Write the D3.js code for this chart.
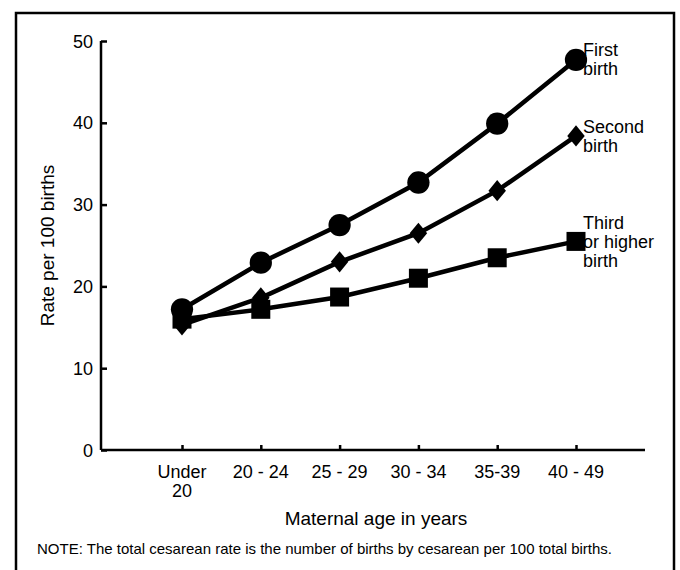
<!DOCTYPE html>
<html>
<head>
<meta charset="utf-8">
<title>Cesarean rate by maternal age</title>
<script src="https://d3js.org/d3.v7.min.js"></script>
<style>
  body { margin: 0; background: #fff; }
  text { font-family: "Liberation Sans", Arial, sans-serif; fill: #000; }
</style>
</head>
<body>
<div id="chart"></div>
<script>
// data
const ageGroups = ["Under 20", "20 - 24", "25 - 29", "30 - 34", "35-39", "40 - 49"];
const firstBirth = [17.2, 22.9, 27.5, 32.7, 39.9, 47.7];
const secondBirth = [15.3, 18.6, 23.0, 26.5, 31.7, 38.4];
const thirdBirth = [16.0, 17.2, 18.7, 21.0, 23.5, 25.5];
const yTicks = [0, 10, 20, 30, 40, 50];

const W = 680, H = 570;
const margin = { top: 41, left: 101, right: 35, bottom: 120 };

const svg = d3.select("#chart").append("svg")
  .attr("width", W).attr("height", H);

// outer frame (bottom edge runs off the page)
svg.append("path")
  .attr("d", "M16,600 L16,13 L674,13 L674,600")
  .attr("fill", "none").attr("stroke", "#000").attr("stroke-width", 2.5);

const x = d3.scalePoint()
  .domain(ageGroups)
  .range([182, 576]);

const y = d3.scaleLinear()
  .domain([0, 50])
  .range([H - margin.bottom, margin.top]);

// y axis
const yAxis = svg.append("g")
  .attr("transform", `translate(${margin.left},0)`)
  .call(d3.axisRight(y).tickValues(yTicks).tickSize(6).tickFormat(""));
yAxis.select(".domain").attr("d", `M0,${y(50)}V${y(0)}`).attr("stroke-width", 2.5);
yAxis.selectAll(".tick line").attr("stroke-width", 2.5);
svg.selectAll(".ylab").data(yTicks).join("text")
  .attr("class", "ylab")
  .attr("x", 93).attr("y", d => y(d) + 6.5)
  .attr("text-anchor", "end")
  .attr("font-size", 18)
  .text(d => d);

// x axis
const xAxis = svg.append("g")
  .attr("transform", `translate(0,${y(0)})`)
  .call(d3.axisTop(x).tickSize(5).tickFormat(""));
xAxis.select(".domain").attr("d", `M${margin.left},0H645`).attr("stroke-width", 2.5);
xAxis.selectAll(".tick line").attr("stroke-width", 2.5);

svg.selectAll(".xlab").data(ageGroups).join("text")
  .attr("class", "xlab")
  .attr("x", d => x(d))
  .attr("y", 478)
  .attr("text-anchor", "middle")
  .attr("font-size", 18)
  .each(function (d) {
    const parts = d === "Under 20" ? ["Under", "20"] : [d];
    d3.select(this).selectAll("tspan").data(parts).join("tspan")
      .attr("x", x(d))
      .attr("dy", (p, i) => i ? 19 : 0)
      .text(p => p);
  });

// axis titles
svg.append("text")
  .attr("x", 376).attr("y", 525)
  .attr("text-anchor", "middle")
  .attr("font-size", 19)
  .text("Maternal age in years");

svg.append("text")
  .attr("transform", `translate(54,${y(25)}) rotate(-90)`)
  .attr("text-anchor", "middle")
  .attr("font-size", 19)
  .text("Rate per 100 births");

svg.append("text")
  .attr("x", 37).attr("y", 554)
  .attr("font-size", 15)
  .text("NOTE: The total cesarean rate is the number of births by cesarean per 100 total births.");

// a squat diamond like the printed one
const diamond = {
  draw(ctx, size) {
    const r = Math.sqrt(size) / 2;
    ctx.moveTo(0, -r * 1.15);
    ctx.lineTo(r * 0.95, 0);
    ctx.lineTo(0, r * 1.15);
    ctx.lineTo(-r * 0.95, 0);
    ctx.closePath();
  }
};

// series
const series = [
  { name: "third", values: thirdBirth, symbol: d3.symbolSquare, size: 361, label: ["Third", "or higher", "birth"], ly: 229 },
  { name: "second", values: secondBirth, symbol: diamond, size: 340, label: ["Second", "birth"], ly: 133 },
  { name: "first", values: firstBirth, symbol: d3.symbolCircle, size: 390, label: ["First", "birth"], ly: 56 }
];

const line = d3.line()
  .x((d, i) => x(ageGroups[i]))
  .y(d => y(d));

series.forEach(s => {
  const g = svg.append("g").attr("class", s.name);
  g.append("path")
    .attr("d", line(s.values))
    .attr("fill", "none")
    .attr("stroke", "#000")
    .attr("stroke-width", 4.5);
  g.selectAll("path.mark").data(s.values).join("path")
    .attr("class", "mark")
    .attr("transform", (d, i) => `translate(${x(ageGroups[i])},${y(d)})`)
    .attr("d", d3.symbol().type(s.symbol).size(s.size))
    .attr("fill", "#000");
  g.append("text")
    .attr("font-size", 18)
    .selectAll("tspan").data(s.label).join("tspan")
    .attr("x", 583)
    .attr("y", (t, i) => s.ly + i * 19)
    .text(t => t);
});
</script>
</body>
</html>
